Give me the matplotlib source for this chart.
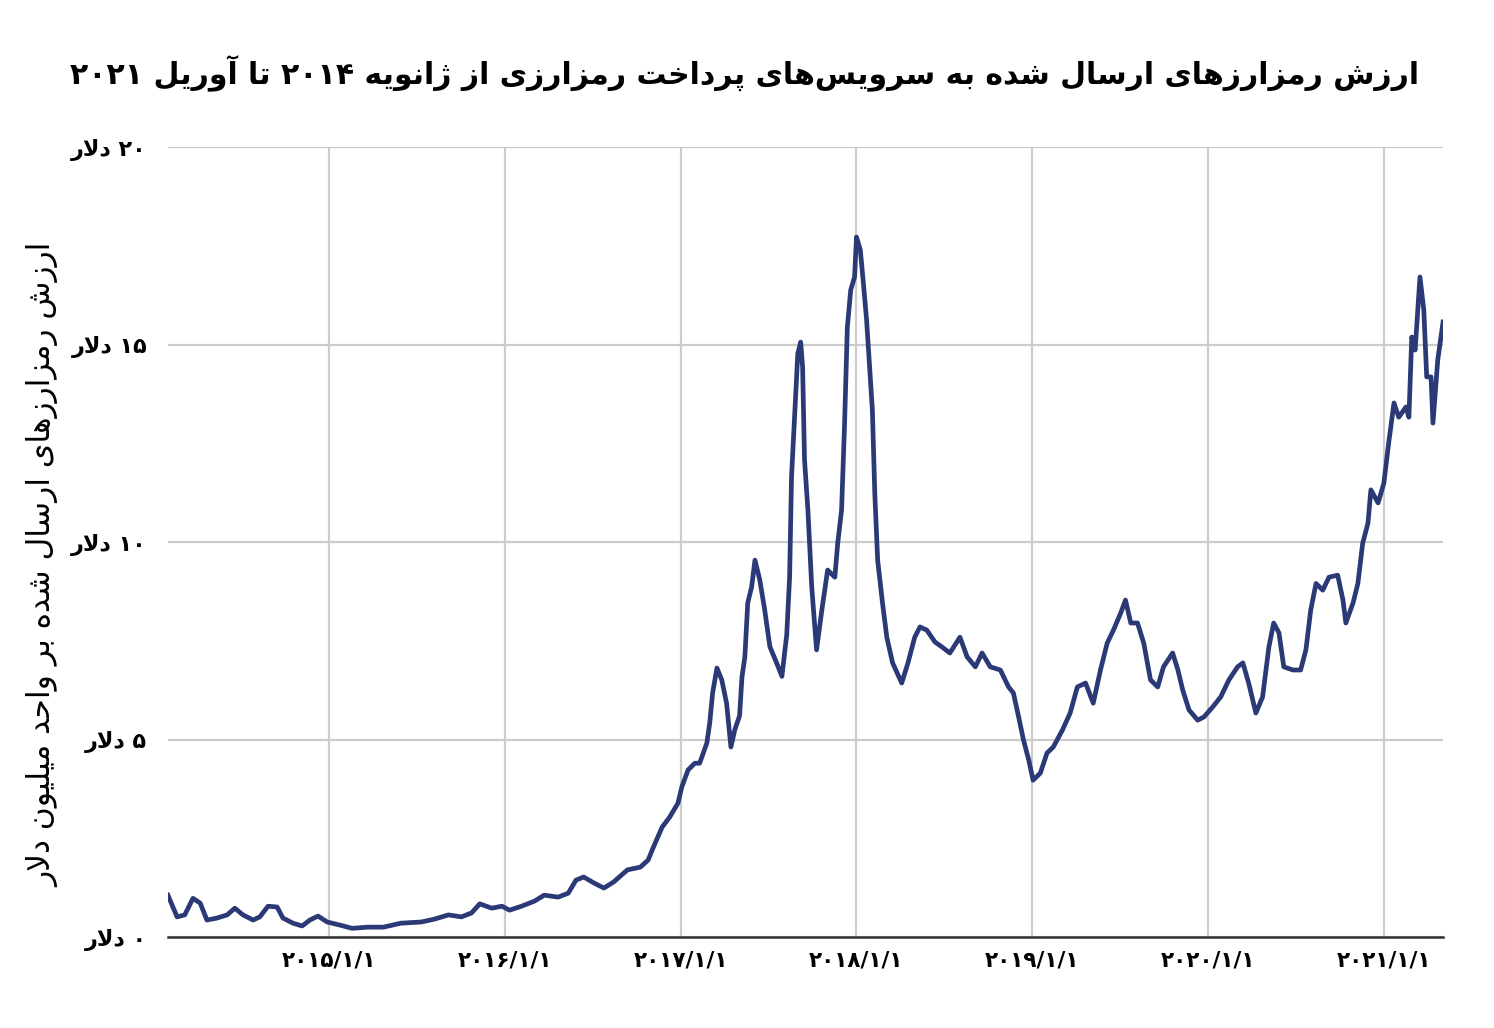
import numpy as np
import pandas as pd
import matplotlib
matplotlib.use("Agg")
import matplotlib.pyplot as plt
import matplotlib.dates as mdates
from matplotlib.ticker import FuncFormatter, MultipleLocator

# ---- data ----
dates = [
    "2014-01-31", "2014-02-19", "2014-03-07", "2014-03-24", "2014-04-08", "2014-04-22",
    "2014-05-13", "2014-06-03", "2014-06-19", "2014-07-06", "2014-07-27", "2014-08-10",
    "2014-08-27", "2014-09-15", "2014-09-27", "2014-10-18", "2014-11-06", "2014-11-22",
    "2014-12-09", "2014-12-28",
    "2015-01-24", "2015-02-18", "2015-03-22", "2015-04-24", "2015-05-30", "2015-07-11",
    "2015-08-07", "2015-09-06", "2015-10-03", "2015-10-24", "2015-11-10", "2015-12-05",
    "2015-12-26",
    "2016-01-11", "2016-02-05", "2016-03-03", "2016-03-23", "2016-04-21", "2016-05-12",
    "2016-05-28", "2016-06-13", "2016-07-04", "2016-07-25", "2016-08-14", "2016-09-12",
    "2016-10-09", "2016-10-25", "2016-11-04", "2016-11-23", "2016-12-09", "2016-12-26",
    "2017-01-03", "2017-01-16", "2017-01-30", "2017-02-09", "2017-02-24", "2017-03-02",
    "2017-03-08", "2017-03-17", "2017-03-27", "2017-04-06", "2017-04-15", "2017-04-23",
    "2017-05-03", "2017-05-08", "2017-05-14", "2017-05-20", "2017-05-28", "2017-06-04",
    "2017-06-14", "2017-06-24", "2017-07-05", "2017-07-19", "2017-07-30", "2017-08-09",
    "2017-08-15", "2017-08-19", "2017-08-26", "2017-09-01", "2017-09-07", "2017-09-11",
    "2017-09-15", "2017-09-22", "2017-09-30", "2017-10-10", "2017-10-21", "2017-11-02",
    "2017-11-17", "2017-11-23", "2017-12-01", "2017-12-07", "2017-12-13", "2017-12-20",
    "2017-12-28",
    "2018-01-01", "2018-01-09", "2018-01-16", "2018-01-22", "2018-01-26", "2018-02-03",
    "2018-02-08", "2018-02-14", "2018-02-24", "2018-03-05", "2018-03-17", "2018-04-05",
    "2018-04-18", "2018-05-02", "2018-05-13", "2018-05-27", "2018-06-13", "2018-06-28",
    "2018-07-14", "2018-08-04", "2018-08-19", "2018-09-05", "2018-09-19", "2018-10-06",
    "2018-10-27", "2018-11-13", "2018-11-23", "2018-12-04", "2018-12-14", "2018-12-25",
    "2019-01-03", "2019-01-18", "2019-02-01", "2019-02-14", "2019-03-05", "2019-03-21",
    "2019-04-05", "2019-04-22", "2019-05-08", "2019-05-23", "2019-06-06", "2019-06-19",
    "2019-07-04", "2019-07-14", "2019-07-25", "2019-08-08", "2019-08-21", "2019-09-04",
    "2019-09-19", "2019-10-01", "2019-10-20", "2019-10-31", "2019-11-10", "2019-11-23",
    "2019-12-11", "2019-12-24",
    "2020-01-11", "2020-01-28", "2020-02-14", "2020-03-03", "2020-03-14", "2020-03-26",
    "2020-04-10", "2020-04-24", "2020-05-07", "2020-05-17", "2020-05-28", "2020-06-07",
    "2020-06-26", "2020-07-12", "2020-07-23", "2020-08-02", "2020-08-13", "2020-08-27",
    "2020-09-09", "2020-09-27", "2020-10-08", "2020-10-14", "2020-10-29", "2020-11-08",
    "2020-11-18", "2020-11-29", "2020-12-05", "2020-12-20",
    "2021-01-01", "2021-01-11", "2021-01-22", "2021-02-01", "2021-02-16", "2021-02-22",
    "2021-02-28", "2021-03-07", "2021-03-17", "2021-03-25", "2021-03-31", "2021-04-09",
    "2021-04-13", "2021-04-23", "2021-05-04",
]
values = [
    1.06, 0.51, 0.56, 0.98, 0.86, 0.43, 0.48, 0.56, 0.73, 0.56, 0.43, 0.51,
    0.78, 0.76, 0.48, 0.35, 0.28, 0.43, 0.53, 0.38,
    0.30, 0.22, 0.25, 0.25, 0.35, 0.38, 0.45, 0.56, 0.51, 0.61, 0.84, 0.73,
    0.78,
    0.68, 0.78, 0.91, 1.06, 1.01, 1.11, 1.44, 1.52, 1.37, 1.24, 1.39, 1.70,
    1.77, 1.95, 2.25, 2.78, 3.04, 3.39,
    3.80, 4.23, 4.40, 4.40, 4.91, 5.42, 6.18, 6.81, 6.51, 5.92, 4.81, 5.24,
    5.60, 6.58, 7.09, 8.46, 8.86, 9.54, 9.04, 8.30, 7.35, 6.94, 6.60, 7.65,
    9.11, 11.65, 13.33, 14.77, 15.06, 14.43, 12.08, 10.81, 8.86, 7.27, 8.28, 9.29,
    9.11, 9.97, 10.81, 12.91, 15.44, 16.38, 16.71,
    17.72, 17.39, 16.46, 15.62, 14.86, 13.34, 11.24, 9.54, 8.46, 7.59, 6.94, 6.43,
    6.94, 7.59, 7.85, 7.77, 7.47, 7.34, 7.19, 7.59, 7.09, 6.84, 7.19, 6.84,
    6.76, 6.33, 6.18, 5.57, 4.99, 4.48,
    3.97, 4.15, 4.66, 4.81, 5.24, 5.67, 6.33, 6.43, 5.92, 6.76, 7.44, 7.77,
    8.20, 8.53, 7.95, 7.95, 7.44, 6.51, 6.33, 6.84, 7.19, 6.76, 6.25, 5.75,
    5.49, 5.57,
    5.82, 6.08, 6.51, 6.84, 6.94, 6.43, 5.67, 6.08, 7.34, 7.95, 7.70, 6.84,
    6.76, 6.76, 7.27, 8.28, 8.95, 8.78, 9.11, 9.16, 8.53, 7.95, 8.46, 8.95,
    9.97, 10.48, 11.32, 10.99,
    11.49, 12.51, 13.52, 13.16, 13.42, 13.16, 15.19, 14.86, 16.71, 15.87, 14.18, 14.18,
    13.01, 14.61, 15.57,
]
y_ticks = [0, 5, 10, 15, 20]

title_text = "ارزش رمزارزهای ارسال شده به سرویس\u200cهای پرداخت رمزارزی از ژانویه ۲۰۱۴ تا آوریل ۲۰۲۱"
ylabel_text = "ارزش رمزارزهای ارسال شده بر واحد میلیون دلار"
unit_text = "دلار"

# ---- tiny persian shaper (matplotlib has no RTL shaping) ----
# isolated, final, initial, medial
FORMS = {
    'ا': ('\uFE8D', '\uFE8E', None, None), 'آ': ('\uFE81', '\uFE82', None, None),
    'ب': ('\uFE8F', '\uFE90', '\uFE91', '\uFE92'), 'پ': ('\uFB56', '\uFB57', '\uFB58', '\uFB59'),
    'ت': ('\uFE95', '\uFE96', '\uFE97', '\uFE98'), 'ث': ('\uFE99', '\uFE9A', '\uFE9B', '\uFE9C'),
    'ج': ('\uFE9D', '\uFE9E', '\uFE9F', '\uFEA0'), 'چ': ('\uFB7A', '\uFB7B', '\uFB7C', '\uFB7D'),
    'ح': ('\uFEA1', '\uFEA2', '\uFEA3', '\uFEA4'), 'خ': ('\uFEA5', '\uFEA6', '\uFEA7', '\uFEA8'),
    'د': ('\uFEA9', '\uFEAA', None, None), 'ذ': ('\uFEAB', '\uFEAC', None, None),
    'ر': ('\uFEAD', '\uFEAE', None, None), 'ز': ('\uFEAF', '\uFEB0', None, None),
    'ژ': ('\uFB8A', '\uFB8B', None, None),
    'س': ('\uFEB1', '\uFEB2', '\uFEB3', '\uFEB4'), 'ش': ('\uFEB5', '\uFEB6', '\uFEB7', '\uFEB8'),
    'ص': ('\uFEB9', '\uFEBA', '\uFEBB', '\uFEBC'), 'ض': ('\uFEBD', '\uFEBE', '\uFEBF', '\uFEC0'),
    'ط': ('\uFEC1', '\uFEC2', '\uFEC3', '\uFEC4'), 'ظ': ('\uFEC5', '\uFEC6', '\uFEC7', '\uFEC8'),
    'ع': ('\uFEC9', '\uFECA', '\uFECB', '\uFECC'), 'غ': ('\uFECD', '\uFECE', '\uFECF', '\uFED0'),
    'ف': ('\uFED1', '\uFED2', '\uFED3', '\uFED4'), 'ق': ('\uFED5', '\uFED6', '\uFED7', '\uFED8'),
    'ک': ('\uFB8E', '\uFB8F', '\uFB90', '\uFB91'), 'گ': ('\uFB92', '\uFB93', '\uFB94', '\uFB95'),
    'ل': ('\uFEDD', '\uFEDE', '\uFEDF', '\uFEE0'), 'م': ('\uFEE1', '\uFEE2', '\uFEE3', '\uFEE4'),
    'ن': ('\uFEE5', '\uFEE6', '\uFEE7', '\uFEE8'), 'و': ('\uFEED', '\uFEEE', None, None),
    'ه': ('\uFEE9', '\uFEEA', '\uFEEB', '\uFEEC'), 'ی': ('\uFBFC', '\uFBFD', '\uFBFE', '\uFBFF'),
}
LAM_ALEF = {'ا': ('\uFEFB', '\uFEFC'), 'آ': ('\uFEF5', '\uFEF6')}
LTR_CHARS = set('۰۱۲۳۴۵۶۷۸۹0123456789/')


def joins_next(c):
    return c in FORMS and FORMS[c][2] is not None


def fa(text):
    chars = list(text)
    res = []
    i = 0
    while i < len(chars):
        c = chars[i]
        if c not in FORMS:
            if c != '\u200c':
                res.append(c)
            i += 1
            continue
        prev = chars[i - 1] if i > 0 else ''
        nxt = chars[i + 1] if i + 1 < len(chars) else ''
        jp = joins_next(prev)
        if c == 'ل' and nxt in LAM_ALEF:
            res.append(LAM_ALEF[nxt][1] if jp else LAM_ALEF[nxt][0])
            i += 2
            continue
        jn = joins_next(c) and nxt in FORMS
        iso, fin, ini, med = FORMS[c]
        if jp and jn:
            res.append(med)
        elif jp:
            res.append(fin)
        elif jn:
            res.append(ini)
        else:
            res.append(iso)
        i += 1
    # visual order: reverse, but keep digit runs left-to-right
    vis = res[::-1]
    out, run = [], []
    for c in vis:
        if c in LTR_CHARS:
            run.append(c)
        else:
            out.extend(run[::-1])
            run = []
            out.append(c)
    out.extend(run[::-1])
    return ''.join(out)


def fa_digits(s):
    return str(s).translate(str.maketrans('0123456789', '۰۱۲۳۴۵۶۷۸۹'))


# ---- plot ----
plt.rcParams['font.family'] = ['DejaVu Sans']

x = pd.to_datetime(dates)
y = np.array(values)

fig = plt.figure(figsize=(14.94, 10.28), dpi=100)
ax = fig.add_axes([0.1124, 0.0885, 0.8535, 0.7685])

ax.plot(x, y, color='#2b3a76', lw=3.4, solid_joinstyle='round')

ax.set_ylim(0, 20)
ax.set_xlim(x[0], x[-1])
ax.yaxis.set_major_locator(MultipleLocator(5))
ax.yaxis.set_major_formatter(FuncFormatter(lambda v, p: fa(fa_digits(int(round(v))) + ' ' + unit_text)))
ax.xaxis.set_major_locator(mdates.YearLocator())
ax.xaxis.set_major_formatter(FuncFormatter(
    lambda v, p: fa_digits(mdates.num2date(v).strftime('%Y/%-m/%-d'))))

ax.grid(True, color='#cccccc', lw=1.6)
ax.set_axisbelow(True)
for s in ['top', 'right', 'left']:
    ax.spines[s].set_visible(False)
ax.spines['bottom'].set_color('#333333')
ax.spines['bottom'].set_linewidth(1.8)
ax.tick_params(axis='both', length=0)
ax.tick_params(axis='y', pad=15, labelsize=16)
ax.tick_params(axis='x', pad=10, labelsize=15.5)
for lab in ax.get_xticklabels() + ax.get_yticklabels():
    lab.set_fontweight('bold')

ax.set_ylabel(fa(ylabel_text), fontsize=22.5)
ax.yaxis.set_label_coords(-0.085, 0.471)
fig.suptitle(fa(title_text), fontsize=21.5, fontweight='bold', x=0.4985, y=0.946)

fig.savefig('out.png', dpi=100)
